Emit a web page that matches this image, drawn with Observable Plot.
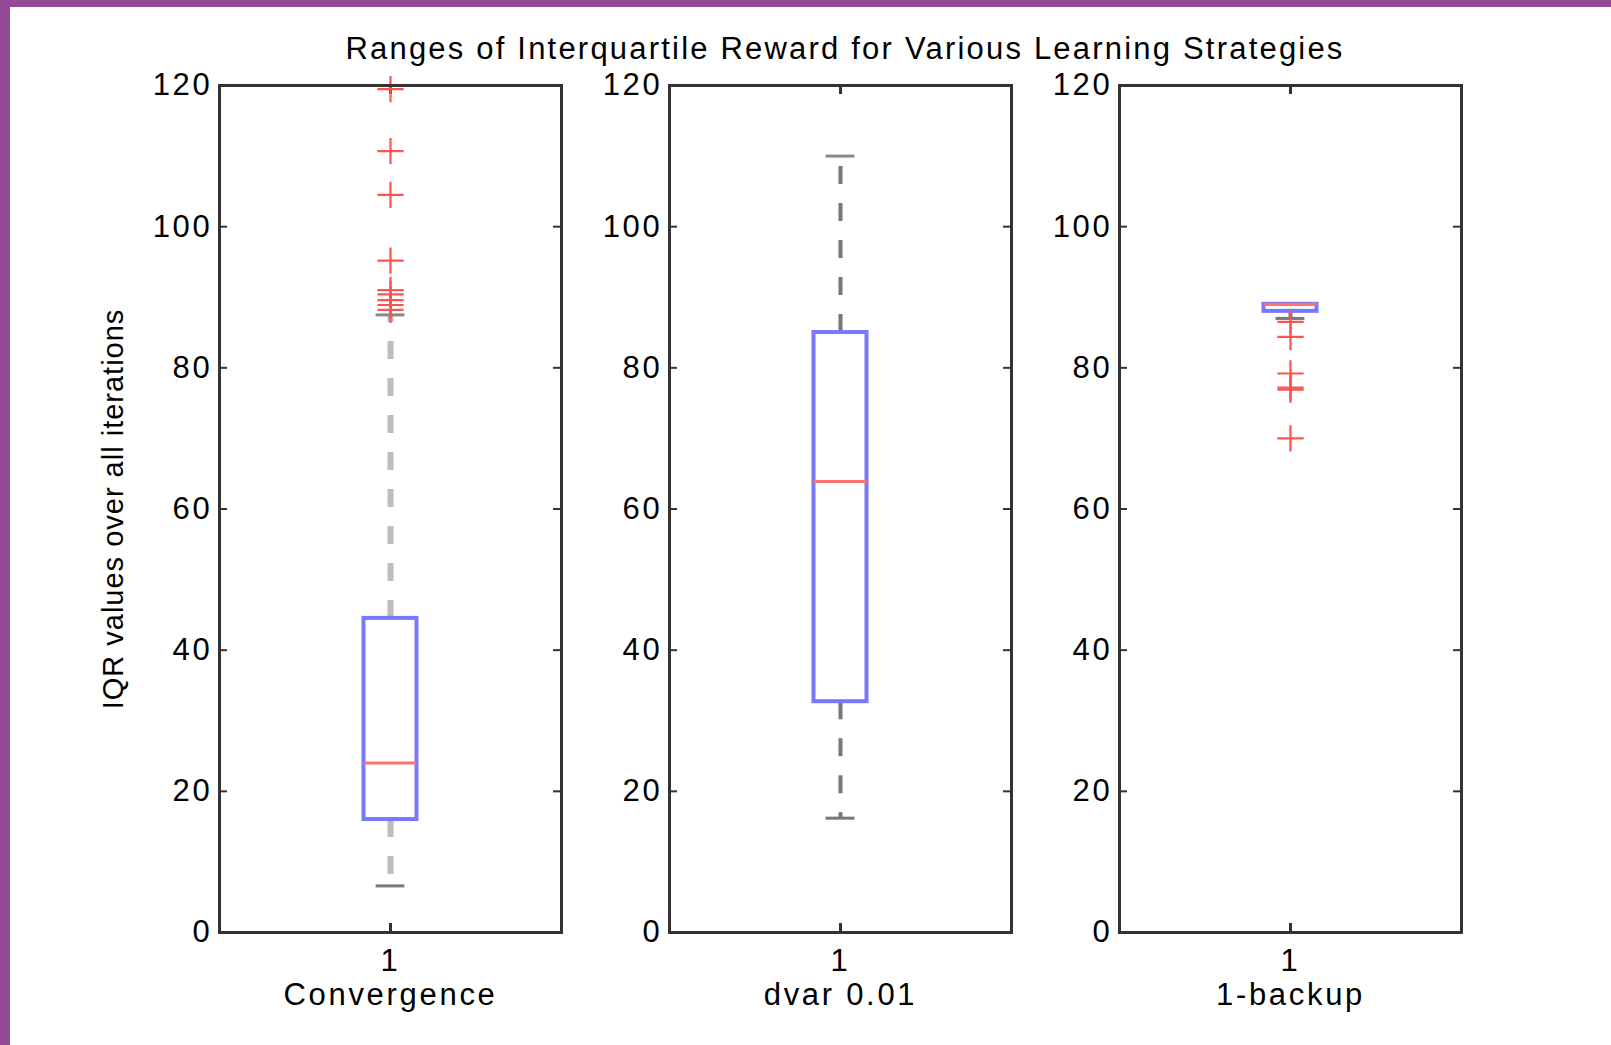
<!DOCTYPE html>
<html><head><meta charset="utf-8">
<script src="https://cdn.jsdelivr.net/npm/d3@7"></script>
<script src="https://cdn.jsdelivr.net/npm/@observablehq/plot@0.6"></script>
<style>
body{margin:0;background:#fff;}
#root{position:relative;width:1611px;height:1045px;overflow:hidden;background:#fff;font-family:"Liberation Sans",Arial,sans-serif;}
.bl{position:absolute;left:0;top:0;width:10px;height:1045px;background:#954a96;}
.bt{position:absolute;left:0;top:0;width:1611px;height:7px;background:#954a96;}
#title{position:absolute;left:0;width:1690px;top:33px;text-align:center;font-size:31px;line-height:31px;color:#000;letter-spacing:2.2px;}
.panel{position:absolute;top:75px;}
.panel svg{overflow:visible;}
</style>
</head><body>
<div id="root">
  <div class="bt"></div><div class="bl"></div>
  <div id="title">Ranges of Interquartile Reward for Various Learning Strategies</div>
</div>
<script>
// ---- data ----
const categories = ["Convergence", "dvar 0.01", "1-backup"];
const q1 = [16.0, 32.7, 88.0];
const median = [24.0, 63.9, 89.0];
const q3 = [44.5, 85.0, 89.0];
const whiskerLow = [6.6, 16.2, 87.0];
const whiskerHigh = [87.5, 110.0, 89.0];
const outliers = [
  [119.5, 110.7, 104.5, 95.2, 91.0, 90.4, 89.6, 88.9, 88.2],
  [],
  [86.5, 84.4, 79.2, 77.2, 76.9, 70.0]
];
const yTicks = [0, 20, 40, 60, 80, 100, 120];
const xTicks = [1];
const yLabel = "IQR values over all iterations";

// ---- styling ----
const panelLeft = [129, 579, 1029];
const innerW = 342, innerH = 847;
const boxHalf = 0.0775, capHalf = 0.042;
const whiskerStyle = [
  {stroke: "#bdbdbd", strokeWidth: 6},
  {stroke: "#777777", strokeWidth: 4},
  {stroke: "#777777", strokeWidth: 4}
];
const font = "'Liberation Sans', Arial, sans-serif";

function panel(i) {
  const row = [{x: 1, q1: q1[i], med: median[i], q3: q3[i], lo: whiskerLow[i], hi: whiskerHigh[i]}];
  const outs = outliers[i].map(v => ({x: 1, v}));
  const svg = Plot.plot({
    width: innerW + 100, height: innerH + 120,
    marginLeft: 90, marginRight: 10, marginTop: 10, marginBottom: 110,
    style: {fontFamily: font, fontSize: "31px", background: "transparent", color: "#000", letterSpacing: "2.7px"},
    x: {domain: [0.5, 1.5]},
    y: {domain: [0, 120]},
    marks: [
      Plot.axisY({ticks: yTicks, tickSize: 0, tickPadding: 7, fontSize: 31, label: null}),
      Plot.axisX({ticks: xTicks, tickSize: 0, tickPadding: 16, fontSize: 31, label: null, tickFormat: d => String(d)}),
      Plot.tickY(yTicks, {y: d => d, insetRight: innerW - 8, stroke: "#333", strokeWidth: 2}),
      Plot.tickY(yTicks, {y: d => d, insetLeft: innerW - 8, stroke: "#333", strokeWidth: 2}),
      Plot.tickX(xTicks, {x: d => d, insetBottom: innerH - 9, stroke: "#333", strokeWidth: 3}),
      Plot.tickX(xTicks, {x: d => d, insetTop: innerH - 9, stroke: "#333", strokeWidth: 3}),
      Plot.ruleX(row, {x: "x", y1: "q3", y2: "hi", ...whiskerStyle[i], strokeDasharray: "18,19"}),
      Plot.ruleX(row, {x: "x", y1: "q1", y2: "lo", ...whiskerStyle[i], strokeDasharray: "18,19"}),
      Plot.ruleY(row, {y: "hi", x1: d => d.x - capHalf, x2: d => d.x + capHalf, stroke: "#888", strokeWidth: 3}),
      Plot.ruleY(row, {y: "lo", x1: d => d.x - capHalf, x2: d => d.x + capHalf, stroke: "#777", strokeWidth: 3}),
      Plot.rect(row, {x1: d => d.x - boxHalf, x2: d => d.x + boxHalf, y1: "q1", y2: "q3", fill: "none", stroke: "#7878ff", strokeWidth: 4}),
      Plot.ruleY(row, {y: "med", x1: d => d.x - boxHalf, x2: d => d.x + boxHalf, stroke: "#ff7070", strokeWidth: 3}),
      Plot.dot(outs, {x: "x", y: "v", symbol: "plus", r: 8.5, stroke: "#ff5252", strokeWidth: 2.2}),
      Plot.frame({stroke: "#333", strokeWidth: 3}),
      i === 0 ? Plot.text([yLabel], {frameAnchor: "left", textAnchor: "middle", lineAnchor: "middle", rotate: -90, dx: -106, fontSize: 29}) : null,
      Plot.text([categories[i]], {frameAnchor: "bottom", lineAnchor: "middle", dy: 63, fontSize: 31})
    ]
  });
  svg.querySelectorAll("text").forEach(t => {
    if (t.textContent === yLabel) t.style.letterSpacing = "1px";
  });
  return svg;
}

const root = document.getElementById("root");
categories.forEach((c, i) => {
  const div = document.createElement("div");
  div.className = "panel";
  div.style.left = panelLeft[i] + "px";
  div.appendChild(panel(i));
  root.appendChild(div);
});
</script>
</body></html>
